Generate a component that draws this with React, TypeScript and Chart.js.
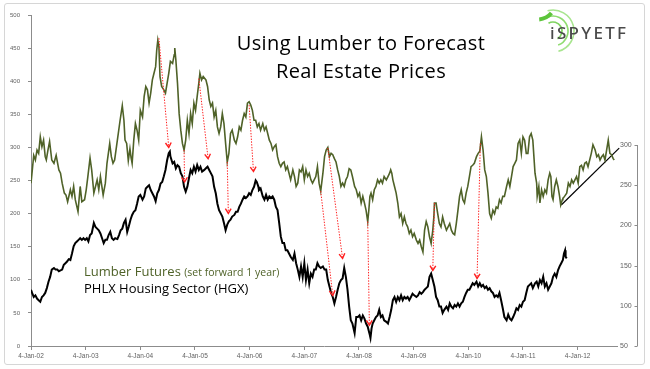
import { useEffect, useRef } from 'react';
import { Chart, registerables } from 'chart.js';

Chart.register(...registerables);

// Lumber futures (set forward 1 year) – left axis. [decimal year, price]
const lumber: [number, number][] = [
[2002.00,246],[2002.05,288],[2002.08,281],[2002.11,296],[2002.14,291],[2002.17,316],[2002.20,301],[2002.23,311],[2002.26,286],[2002.28,281],[2002.31,296],[2002.34,309],[2002.38,281],[2002.42,276],[2002.46,288],[2002.51,266],[2002.54,261],[2002.57,246],[2002.61,231],[2002.64,228],[2002.67,218],[2002.72,236],[2002.75,226],[2002.78,241],[2002.81,221],[2002.86,203],[2002.90,241],[2002.93,218],[2002.98,221],[2003.01,236],[2003.04,256],[2003.08,284],[2003.11,266],[2003.15,231],[2003.18,241],[2003.21,251],[2003.24,236],[2003.27,256],[2003.32,228],[2003.36,246],[2003.39,276],[2003.44,306],[2003.47,286],[2003.50,276],[2003.53,281],[2003.58,311],[2003.63,341],[2003.67,363],[2003.70,341],[2003.72,311],[2003.75,306],[2003.78,280],[2003.81,298],[2003.83,285],[2003.85,276],[2003.88,311],[2003.91,336],[2003.94,326],[2003.97,311],[2004.00,356],[2004.04,346],[2004.07,377],[2004.10,392],[2004.13,387],[2004.16,367],[2004.19,382],[2004.22,402],[2004.25,412],[2004.28,422],[2004.30,447],[2004.32,462],[2004.34,452],[2004.36,407],[2004.39,392],[2004.43,387],[2004.46,382],[2004.49,397],[2004.52,412],[2004.55,430],[2004.59,427],[2004.62,440],[2004.63,450],[2004.65,432],[2004.68,397],[2004.71,351],[2004.74,326],[2004.77,306],[2004.80,296],[2004.83,311],[2004.86,341],[2004.89,321],[2004.92,351],[2004.95,336],[2004.98,367],[2005.01,356],[2005.04,377],[2005.07,397],[2005.09,412],[2005.12,402],[2005.15,407],[2005.20,402],[2005.23,392],[2005.26,372],[2005.29,362],[2005.32,367],[2005.35,346],[2005.38,356],[2005.41,331],[2005.44,321],[2005.47,331],[2005.50,351],[2005.53,336],[2005.56,306],[2005.59,278],[2005.62,291],[2005.65,321],[2005.68,326],[2005.72,311],[2005.75,306],[2005.78,316],[2005.81,331],[2005.84,326],[2005.87,341],[2005.90,351],[2005.93,346],[2005.96,367],[2005.99,369],[2006.02,364],[2006.05,356],[2006.08,341],[2006.11,341],[2006.14,331],[2006.17,336],[2006.20,326],[2006.24,336],[2006.27,326],[2006.30,331],[2006.33,321],[2006.36,311],[2006.39,306],[2006.42,296],[2006.45,301],[2006.48,304],[2006.51,286],[2006.54,276],[2006.57,271],[2006.60,276],[2006.63,278],[2006.66,266],[2006.69,271],[2006.72,261],[2006.75,251],[2006.79,266],[2006.82,256],[2006.85,241],[2006.88,246],[2006.91,266],[2006.94,263],[2006.97,271],[2007.00,251],[2007.03,266],[2007.06,256],[2007.09,261],[2007.12,251],[2007.15,246],[2007.18,251],[2007.21,256],[2007.24,271],[2007.27,246],[2007.30,234],[2007.34,261],[2007.37,286],[2007.40,296],[2007.43,300],[2007.46,286],[2007.49,291],[2007.52,289],[2007.55,283],[2007.58,278],[2007.61,266],[2007.64,256],[2007.67,241],[2007.70,246],[2007.73,241],[2007.76,251],[2007.79,256],[2007.82,268],[2007.85,266],[2007.88,256],[2007.92,241],[2007.95,236],[2007.98,226],[2008.01,231],[2008.04,216],[2008.07,226],[2008.10,216],[2008.13,205],[2008.16,188],[2008.18,205],[2008.20,226],[2008.22,231],[2008.25,221],[2008.28,236],[2008.31,241],[2008.34,251],[2008.37,246],[2008.40,251],[2008.43,246],[2008.46,256],[2008.50,251],[2008.53,256],[2008.56,261],[2008.58,266],[2008.60,261],[2008.62,251],[2008.65,241],[2008.68,231],[2008.71,216],[2008.74,195],[2008.77,200],[2008.80,185],[2008.83,195],[2008.86,185],[2008.89,180],[2008.92,170],[2008.95,175],[2008.98,165],[2009.01,170],[2009.05,160],[2009.08,155],[2009.11,160],[2009.14,150],[2009.17,142],[2009.20,175],[2009.23,188],[2009.26,180],[2009.29,165],[2009.32,155],[2009.35,175],[2009.37,195],[2009.38,216],[2009.41,216],[2009.44,200],[2009.47,185],[2009.50,180],[2009.53,195],[2009.56,185],[2009.60,175],[2009.63,180],[2009.66,185],[2009.69,175],[2009.72,170],[2009.75,168],[2009.78,185],[2009.81,205],[2009.84,226],[2009.87,236],[2009.90,221],[2009.93,216],[2009.96,231],[2009.99,241],[2010.02,256],[2010.05,271],[2010.08,273],[2010.11,276],[2010.15,286],[2010.18,291],[2010.21,294],[2010.24,316],[2010.27,296],[2010.30,266],[2010.33,256],[2010.36,231],[2010.39,200],[2010.42,193],[2010.45,205],[2010.48,200],[2010.51,210],[2010.54,208],[2010.57,221],[2010.60,216],[2010.63,226],[2010.66,226],[2010.70,241],[2010.73,251],[2010.76,241],[2010.79,256],[2010.82,271],[2010.85,276],[2010.88,281],[2010.91,306],[2010.94,311],[2010.97,291],[2011.00,316],[2011.03,311],[2011.06,291],[2011.09,291],[2011.12,316],[2011.15,321],[2011.18,311],[2011.20,286],[2011.22,261],[2011.25,246],[2011.26,226],[2011.29,241],[2011.31,216],[2011.34,236],[2011.37,226],[2011.40,236],[2011.43,231],[2011.46,251],[2011.49,261],[2011.51,256],[2011.53,226],[2011.55,221],[2011.58,241],[2011.61,251],[2011.64,241],[2011.67,226],[2011.69,213],[2011.72,221],[2011.73,223],[2011.76,226],[2011.80,231],[2011.83,246],[2011.86,241],[2011.89,251],[2011.92,246],[2011.95,251],[2011.98,256],[2012.01,246],[2012.04,271],[2012.07,273],[2012.10,266],[2012.13,276],[2012.16,278],[2012.19,271],[2012.22,281],[2012.25,291],[2012.28,304],[2012.32,296],[2012.35,286],[2012.38,289],[2012.41,281],[2012.44,286],[2012.47,289],[2012.50,281],[2012.53,296],[2012.56,311],[2012.59,291],[2012.62,289],[2012.65,283],[2012.67,281]
];

// PHLX Housing Sector (HGX) – right axis. [decimal year, index]
const hgx: [number, number][] = [
[2002.00,120],[2002.02,116],[2002.05,111],[2002.08,113],[2002.11,109],[2002.14,107],[2002.17,105],[2002.20,111],[2002.23,113],[2002.26,116],[2002.29,122],[2002.32,130],[2002.35,136],[2002.38,145],[2002.42,147],[2002.45,145],[2002.48,145],[2002.51,143],[2002.54,144],[2002.57,145],[2002.60,151],[2002.63,153],[2002.66,155],[2002.69,158],[2002.72,157],[2002.75,165],[2002.78,174],[2002.81,178],[2002.84,180],[2002.87,182],[2002.90,184],[2002.93,182],[2002.96,184],[2002.99,182],[2003.02,184],[2003.05,180],[2003.08,188],[2003.11,190],[2003.15,203],[2003.18,198],[2003.21,196],[2003.24,194],[2003.27,190],[2003.30,184],[2003.33,178],[2003.36,182],[2003.39,182],[2003.42,188],[2003.45,192],[2003.48,184],[2003.51,182],[2003.54,184],[2003.58,183],[2003.61,188],[2003.64,194],[2003.67,196],[2003.70,203],[2003.73,207],[2003.76,192],[2003.79,199],[2003.82,207],[2003.85,213],[2003.88,217],[2003.91,219],[2003.94,227],[2003.97,236],[2004.00,238],[2004.04,232],[2004.07,236],[2004.10,246],[2004.13,248],[2004.16,250],[2004.19,244],[2004.22,240],[2004.25,236],[2004.28,230],[2004.31,240],[2004.34,244],[2004.37,252],[2004.40,254],[2004.43,261],[2004.46,269],[2004.49,281],[2004.52,290],[2004.54,292],[2004.55,286],[2004.59,277],[2004.62,279],[2004.65,271],[2004.68,275],[2004.71,273],[2004.74,265],[2004.77,261],[2004.80,248],[2004.83,242],[2004.86,248],[2004.89,259],[2004.92,269],[2004.95,265],[2004.98,273],[2005.01,267],[2005.04,275],[2005.07,269],[2005.10,273],[2005.13,267],[2005.17,269],[2005.20,271],[2005.23,273],[2005.26,269],[2005.29,265],[2005.32,261],[2005.35,248],[2005.38,240],[2005.41,227],[2005.44,219],[2005.47,215],[2005.50,211],[2005.53,203],[2005.56,194],[2005.59,201],[2005.62,205],[2005.65,207],[2005.68,211],[2005.72,213],[2005.75,217],[2005.78,217],[2005.81,223],[2005.84,227],[2005.87,232],[2005.90,236],[2005.93,234],[2005.96,236],[2005.99,240],[2006.02,238],[2006.05,244],[2006.08,248],[2006.11,256],[2006.13,254],[2006.16,248],[2006.17,244],[2006.20,246],[2006.24,236],[2006.27,232],[2006.30,238],[2006.33,232],[2006.36,236],[2006.39,234],[2006.42,236],[2006.45,232],[2006.48,223],[2006.51,219],[2006.54,203],[2006.57,186],[2006.60,178],[2006.63,178],[2006.66,169],[2006.69,169],[2006.72,165],[2006.75,161],[2006.79,157],[2006.82,165],[2006.85,153],[2006.88,145],[2006.91,136],[2006.94,149],[2006.97,136],[2007.00,153],[2007.03,132],[2007.06,145],[2007.09,128],[2007.12,140],[2007.15,136],[2007.18,145],[2007.21,145],[2007.24,153],[2007.27,149],[2007.30,147],[2007.34,149],[2007.37,145],[2007.40,145],[2007.43,132],[2007.46,124],[2007.49,116],[2007.52,111],[2007.55,103],[2007.58,111],[2007.61,120],[2007.64,128],[2007.67,132],[2007.70,134],[2007.73,147],[2007.76,136],[2007.79,120],[2007.82,99],[2007.85,82],[2007.88,78],[2007.92,66],[2007.95,86],[2007.98,86],[2008.01,88],[2008.04,82],[2008.07,88],[2008.10,84],[2008.13,78],[2008.16,74],[2008.19,66],[2008.21,60],[2008.23,72],[2008.25,78],[2008.28,82],[2008.31,86],[2008.34,88],[2008.37,95],[2008.40,86],[2008.43,88],[2008.46,82],[2008.50,80],[2008.53,78],[2008.56,86],[2008.59,95],[2008.62,107],[2008.65,111],[2008.68,105],[2008.71,111],[2008.74,107],[2008.77,113],[2008.80,107],[2008.83,111],[2008.86,109],[2008.89,111],[2008.92,107],[2008.95,111],[2008.98,115],[2009.01,113],[2009.05,111],[2009.08,113],[2009.11,117],[2009.14,115],[2009.17,117],[2009.20,120],[2009.23,122],[2009.26,124],[2009.29,136],[2009.32,140],[2009.35,132],[2009.38,124],[2009.41,111],[2009.44,107],[2009.47,99],[2009.50,99],[2009.53,91],[2009.56,95],[2009.60,99],[2009.63,95],[2009.66,103],[2009.69,99],[2009.72,97],[2009.75,101],[2009.78,99],[2009.81,103],[2009.84,99],[2009.87,103],[2009.90,105],[2009.93,111],[2009.96,116],[2009.99,120],[2010.02,120],[2010.05,124],[2010.08,128],[2010.11,126],[2010.15,130],[2010.18,124],[2010.21,128],[2010.24,124],[2010.27,126],[2010.30,122],[2010.33,124],[2010.36,120],[2010.39,122],[2010.42,118],[2010.45,116],[2010.48,111],[2010.51,113],[2010.54,111],[2010.57,116],[2010.60,107],[2010.63,97],[2010.66,86],[2010.70,82],[2010.73,89],[2010.76,84],[2010.79,82],[2010.82,86],[2010.85,91],[2010.88,97],[2010.91,95],[2010.94,101],[2010.97,99],[2011.00,105],[2011.03,107],[2011.06,116],[2011.09,124],[2011.12,126],[2011.15,128],[2011.18,122],[2011.22,128],[2011.25,130],[2011.28,124],[2011.31,132],[2011.34,128],[2011.37,136],[2011.40,124],[2011.43,128],[2011.46,120],[2011.49,124],[2011.52,128],[2011.55,136],[2011.58,140],[2011.61,136],[2011.64,144],[2011.67,149],[2011.70,153],[2011.73,157],[2011.75,165],[2011.77,169],[2011.78,161],[2011.80,159]
];

// Rising support line drawn on the lumber series (left axis)
const trendLine: [number, number][] = [[2011.70, 213], [2012.76, 299]];

// Red dotted arrows: from a lumber turn (left axis) to the matching HGX turn (right axis)
const arrowFrom: [number, number][] = [
  [2004.34, 465], [2004.80, 296], [2005.07, 404], [2005.59, 278], [2005.99, 364],
  [2007.30, 234], [2007.43, 299], [2008.16, 188], [2009.38, 216], [2010.22, 306],
];
const arrowTo: [number, number][] = [
  [2004.52, 297], [2004.81, 254], [2005.24, 283], [2005.61, 215], [2006.07, 267],
  [2007.52, 113], [2007.70, 159], [2008.19, 76], [2009.35, 144], [2010.16, 134],
];

const yearTicks = [2002, 2003, 2004, 2005, 2006, 2007, 2008, 2009, 2010, 2011, 2012];
const leftTicks = [0, 50, 100, 150, 200, 250, 300, 350, 400, 450, 500];
const rightTicks = [50, 100, 150, 200, 250, 300];

const X_MIN = 2002;
const X_MAX = 2012.72;
const LEFT_MIN = 0;
const LEFT_MAX = 500;
const RIGHT_MIN = 50;
const RIGHT_MAX = 461.7;

const AXIS_GRAY = '#8c8c8c';
const LABEL_GRAY = '#5f5f5f';

const overlayPlugin = {
  id: 'overlayPlugin',
  afterDatasetsDraw(chart: any) {
    const { ctx, scales } = chart;
    const x = scales.x, y = scales.y, y1 = scales.y1;
    ctx.save();
    ctx.strokeStyle = '#ff1f1f';
    arrowFrom.forEach((s, i) => {
      const e = arrowTo[i];
      const x0 = x.getPixelForValue(s[0]);
      const y0 = y.getPixelForValue(s[1]);
      const xe = x.getPixelForValue(e[0]);
      const ye = y1.getPixelForValue(e[1]);
      ctx.lineWidth = 1;
      ctx.setLineDash([1.4, 1.4]);
      ctx.beginPath();
      ctx.moveTo(x0, y0);
      ctx.lineTo(xe, ye);
      ctx.stroke();
      const ang = Math.atan2(ye - y0, xe - x0);
      const len = 5.5, spread = 0.55;
      ctx.setLineDash([]);
      ctx.lineWidth = 1.4;
      ctx.beginPath();
      ctx.moveTo(xe - len * Math.cos(ang - spread), ye - len * Math.sin(ang - spread));
      ctx.lineTo(xe, ye);
      ctx.lineTo(xe - len * Math.cos(ang + spread), ye - len * Math.sin(ang + spread));
      ctx.stroke();
    });
    ctx.restore();
  },
  afterDraw(chart: any) {
    const { ctx } = chart;
    const s = chart.scales.y1;
    const xr = Math.round(s.right) - 0.5;
    const top = s.getPixelForValue(rightTicks[rightTicks.length - 1]);
    const bot = s.getPixelForValue(rightTicks[0]);
    ctx.save();
    ctx.strokeStyle = AXIS_GRAY;
    ctx.lineWidth = 1;
    ctx.beginPath();
    ctx.moveTo(xr, top);
    ctx.lineTo(xr, bot);
    rightTicks.forEach((v) => {
      const py = Math.round(s.getPixelForValue(v)) + 0.5;
      ctx.moveTo(xr - 3, py);
      ctx.lineTo(xr, py);
    });
    ctx.stroke();
    ctx.restore();
  },
};

export default function App() {
  const canvasRef = useRef<HTMLCanvasElement | null>(null);

  useEffect(() => {
    const canvas = canvasRef.current;
    if (!canvas) return;
    const chart = new Chart(canvas, {
      type: 'line',
      data: {
        datasets: [
          {
            label: 'Lumber Futures (set forward 1 year)',
            data: lumber.map(([x, y]) => ({ x, y })),
            yAxisID: 'y',
            borderColor: '#4F6228',
            borderWidth: 1.6,
            pointRadius: 0,
            tension: 0,
          },
          {
            label: 'PHLX Housing Sector (HGX)',
            data: hgx.map(([x, y]) => ({ x, y })),
            yAxisID: 'y1',
            borderColor: '#000000',
            borderWidth: 2,
            pointRadius: 0,
            tension: 0,
          },
          {
            label: 'Trend',
            data: trendLine.map(([x, y]) => ({ x, y })),
            yAxisID: 'y',
            borderColor: '#000000',
            borderWidth: 1.2,
            pointRadius: 0,
            tension: 0,
            clip: false as any,
          },
        ],
      },
      options: {
        responsive: false,
        animation: false,
        layout: { padding: { left: 0, right: 12, top: 15, bottom: 0 } },
        plugins: {
          legend: { display: false },
          title: { display: false },
          tooltip: { enabled: false },
        },
        scales: {
          x: {
            type: 'linear',
            min: X_MIN,
            max: X_MAX,
            afterBuildTicks: (scale: any) => {
              scale.ticks = yearTicks.map((v) => ({ value: v }));
            },
            afterFit: (scale: any) => {
              scale.height = 23;
            },
            grid: {
              display: true,
              drawOnChartArea: false,
              drawTicks: true,
              tickLength: 4,
              color: AXIS_GRAY,
            },
            border: { display: true, color: AXIS_GRAY, width: 1 },
            ticks: {
              autoSkip: false,
              maxRotation: 0,
              padding: 2,
              color: LABEL_GRAY,
              font: { family: 'Liberation Sans', size: 6.5 },
              callback: (v: any) => '4-Jan-' + String(Math.round(Number(v)) % 100).padStart(2, '0'),
            },
          },
          y: {
            type: 'linear',
            position: 'left',
            min: LEFT_MIN,
            max: LEFT_MAX,
            afterBuildTicks: (scale: any) => {
              scale.ticks = leftTicks.map((v) => ({ value: v }));
            },
            afterFit: (scale: any) => {
              scale.width = 31;
            },
            grid: {
              display: true,
              drawOnChartArea: false,
              drawTicks: true,
              tickLength: 3,
              color: AXIS_GRAY,
            },
            border: { display: true, color: AXIS_GRAY, width: 1 },
            ticks: {
              padding: 8,
              color: LABEL_GRAY,
              font: { family: 'Liberation Sans', size: 6 },
            },
          },
          y1: {
            type: 'linear',
            position: 'right',
            min: RIGHT_MIN,
            max: RIGHT_MAX,
            afterBuildTicks: (scale: any) => {
              scale.ticks = rightTicks.map((v) => ({ value: v }));
            },
            afterFit: (scale: any) => {
              scale.width = 21;
            },
            grid: { display: false, drawOnChartArea: false, drawTicks: false },
            border: { display: false },
            ticks: {
              padding: 3,
              color: LABEL_GRAY,
              font: { family: 'Liberation Sans', size: 7 },
            },
          },
        },
      },
      plugins: [overlayPlugin],
    });
    return () => chart.destroy();
  }, []);

  const arc = (r: number, a0: number, a1: number) => {
    const cx = 553, cy = 31;
    const p = (a: number) => [cx + r * Math.cos((a * Math.PI) / 180), cy + r * Math.sin((a * Math.PI) / 180)];
    const [x0, y0] = p(a0);
    const [x1, y1] = p(a1);
    return `M ${x0} ${y0} A ${r} ${r} 0 ${Math.abs(a1 - a0) > 180 ? 1 : 0} 0 ${x1} ${y1}`;
  };

  return (
    <div style={{ position: 'absolute', left: 0, top: 0, width: 650, height: 369, background: '#ffffff', overflow: 'hidden' }}>
      <div style={{ position: 'absolute', left: 4, top: 3, width: 641, height: 362, border: '1px solid #d6d6d6', borderRadius: 3, boxSizing: 'border-box' }} />
      <canvas ref={canvasRef} width={650} height={369} style={{ position: 'absolute', left: 0, top: 0, width: 650, height: 369 }} />
      <svg width={650} height={369} style={{ position: 'absolute', left: 0, top: 0, pointerEvents: 'none' }}>
        <path d={arc(21, 75, -105)} fill="none" stroke="#a8e58f" strokeWidth={1.6} />
        <path d={arc(15, 70, -110)} fill="none" stroke="#8fdc70" strokeWidth={1.6} />
        <path d={arc(9, 60, -120)} fill="none" stroke="#7ed35f" strokeWidth={1.6} />
        <path d={arc(18, -140, -95)} fill="none" stroke="#5cc43a" strokeWidth={4} />
      </svg>
      <div style={{ position: 'absolute', left: 550, top: 24, fontFamily: 'Noto Sans', fontSize: 17, lineHeight: '17px', letterSpacing: 2.3, color: '#4a4a4a', fontWeight: 500, whiteSpace: 'nowrap' }}>
        iSPYETF
      </div>
      <div style={{ position: 'absolute', left: 0, top: 33, width: 722, textAlign: 'center', fontFamily: 'Open Sans', fontSize: 20, lineHeight: '20px', letterSpacing: 0.4, color: '#000', whiteSpace: 'nowrap' }}>
        Using Lumber to Forecast
      </div>
      <div style={{ position: 'absolute', left: 0, top: 61, width: 722, textAlign: 'center', fontFamily: 'Open Sans', fontSize: 20, lineHeight: '20px', letterSpacing: 0.4, color: '#000', whiteSpace: 'nowrap' }}>
        Real Estate Prices
      </div>
      <div style={{ position: 'absolute', left: 84, top: 265, fontFamily: 'Open Sans', fontSize: 13, lineHeight: '13px', color: '#4F6228', whiteSpace: 'nowrap' }}>
        Lumber Futures <span style={{ fontSize: 10.5 }}>(set forward 1 year)</span>
      </div>
      <div style={{ position: 'absolute', left: 84, top: 282, fontFamily: 'Open Sans', fontSize: 13, lineHeight: '13px', color: '#000', whiteSpace: 'nowrap' }}>
        PHLX Housing Sector (HGX)
      </div>
    </div>
  );
}
